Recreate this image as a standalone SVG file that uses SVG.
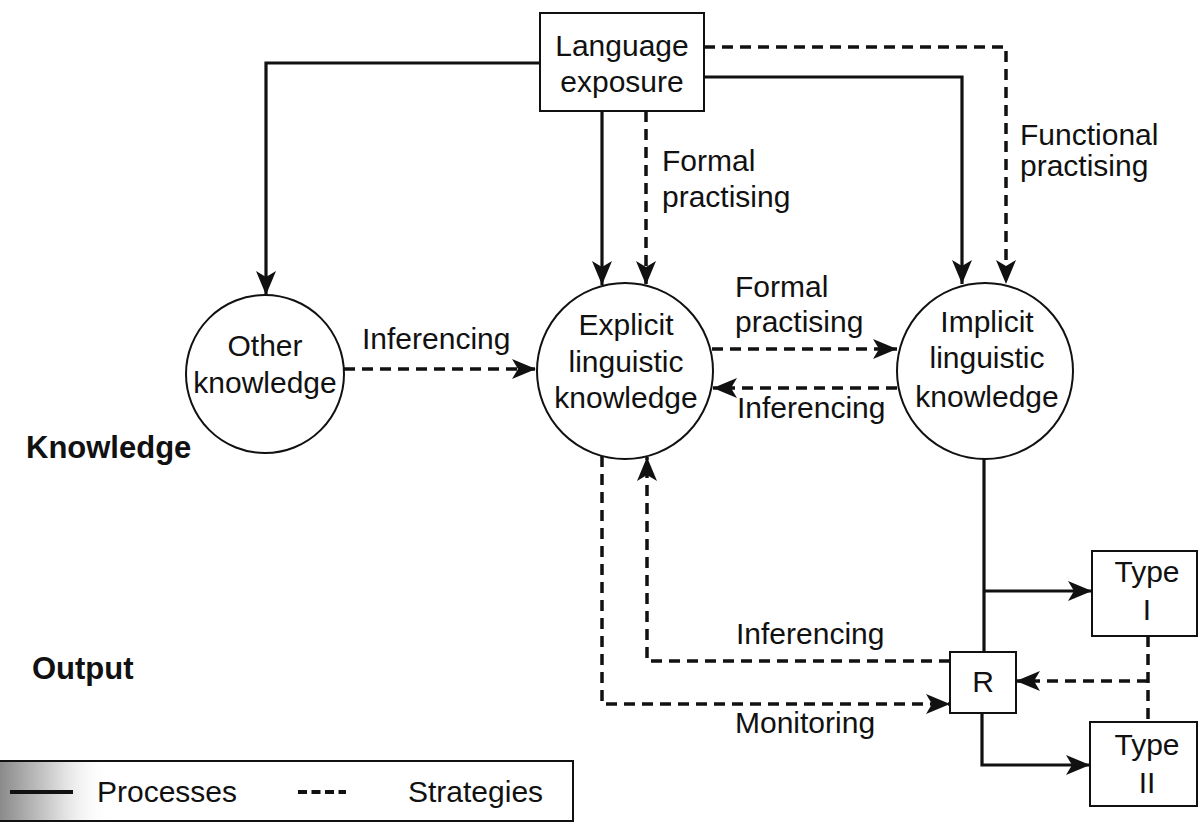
<svg xmlns="http://www.w3.org/2000/svg" width="1199" height="823" viewBox="0 0 1199 823">
<style>
text{font-family:"Liberation Sans",Arial,sans-serif;font-size:30px;fill:#111}
.c{text-anchor:middle}
.b{font-weight:bold;font-size:31px}
.node{fill:#fff;stroke:#111;stroke-width:2}
.sol{fill:none;stroke:#111;stroke-width:3.2}
.dash{fill:none;stroke:#111;stroke-width:3.5;stroke-dasharray:11 7}
</style>
<defs>
<marker id="ah" markerUnits="userSpaceOnUse" markerWidth="26" markerHeight="22" refX="24" refY="10" orient="auto">
<path d="M0,0 L24,10 L0,20 L6,10 Z" fill="#111"/>
</marker>
<linearGradient id="shade" x1="0" y1="0" x2="1" y2="0">
<stop offset="0" stop-color="#8a8a8a"/>
<stop offset="0.5" stop-color="#d4d4d4"/>
<stop offset="1" stop-color="#fff" stop-opacity="0"/>
</linearGradient>
</defs>
<rect width="1199" height="823" fill="#fff"/>

<g id="connectors">
<path class="sol" d="M540,63 H266 V295" marker-end="url(#ah)"/>
<path class="sol" d="M602,111 V285" marker-end="url(#ah)"/>
<path class="dash" d="M646,111 V285" marker-end="url(#ah)"/>
<path class="sol" d="M704,77 H962 V284" marker-end="url(#ah)"/>
<path class="dash" d="M704,47 H1006 V284" marker-end="url(#ah)"/>
<path class="dash" d="M344,369 H536" marker-end="url(#ah)"/>
<path class="dash" d="M712,349 H897" marker-end="url(#ah)"/>
<path class="dash" d="M897,388 H713" marker-end="url(#ah)"/>
<path class="dash" d="M602,456 V704 H950" marker-end="url(#ah)"/>
<path class="dash" d="M950,661 H647 V457" marker-end="url(#ah)"/>
<path class="sol" d="M984,459 V652"/>
<path class="sol" d="M984,591 H1092" marker-end="url(#ah)"/>
<path class="sol" d="M982,713 V765 H1090" marker-end="url(#ah)"/>
<path class="dash" d="M1148,636 V722"/>
<path class="dash" d="M1148,681 H1016" marker-end="url(#ah)"/>
</g>

<g id="labels">
<text x="662" y="171">Formal</text>
<text x="662" y="207">practising</text>
<text x="1020" y="145">Functional</text>
<text x="1020" y="176">practising</text>
<text x="362" y="349">Inferencing</text>
<text x="735" y="297">Formal</text>
<text x="735" y="332">practising</text>
<text x="737" y="418">Inferencing</text>
<text x="736" y="644">Inferencing</text>
<text x="735" y="733">Monitoring</text>
<text class="b" x="26" y="458">Knowledge</text>
<text class="b" x="32" y="679">Output</text>
</g>

<g id="language-exposure">
<rect class="node" x="540" y="13" width="164" height="98"/>
<text class="c" x="622" y="56">Language</text>
<text class="c" x="622" y="92">exposure</text>
</g>

<g id="other-knowledge">
<circle class="node" cx="265" cy="374" r="79"/>
<text class="c" x="265" y="356">Other</text>
<text class="c" x="265" y="393">knowledge</text>
</g>

<g id="explicit-knowledge">
<circle class="node" cx="625" cy="371" r="88"/>
<text class="c" x="626" y="335">Explicit</text>
<text class="c" x="626" y="372">linguistic</text>
<text class="c" x="626" y="408">knowledge</text>
</g>

<g id="implicit-knowledge">
<circle class="node" cx="985" cy="371" r="88"/>
<text class="c" x="987" y="332">Implicit</text>
<text class="c" x="987" y="368">linguistic</text>
<text class="c" x="987" y="407">knowledge</text>
</g>

<g id="r">
<rect class="node" x="950" y="652" width="66" height="61"/>
<text class="c" x="983" y="692">R</text>
</g>

<g id="type-1">
<rect class="node" x="1092" y="551" width="105" height="85"/>
<text class="c" x="1147" y="582">Type</text>
<text class="c" x="1147" y="620">I</text>
</g>

<g id="type-2">
<rect class="node" x="1090" y="722" width="107" height="84"/>
<text class="c" x="1147" y="755">Type</text>
<text class="c" x="1147" y="793">II</text>
</g>

<g id="legend">
<rect x="0" y="761" width="110" height="61" fill="url(#shade)"/>
<path d="M0,761 H573 V821 H0" fill="none" stroke="#111" stroke-width="2"/>
<line x1="10" y1="792" x2="73" y2="792" stroke="#111" stroke-width="4"/>
<text x="97" y="802">Processes</text>
<line x1="298" y1="792" x2="346" y2="792" stroke="#111" stroke-width="4" stroke-dasharray="9 4.5"/>
<text x="408" y="802">Strategies</text>
</g>
</svg>
